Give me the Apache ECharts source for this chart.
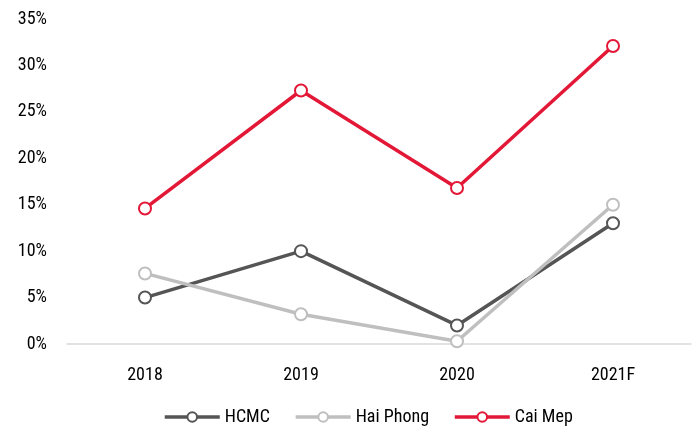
<!DOCTYPE html>
<html><head><meta charset="utf-8">
<script src="https://cdn.jsdelivr.net/npm/echarts@6/dist/echarts.min.js"></script>
<style>html,body{margin:0;padding:0;background:#fff}#c{width:699px;height:428px}</style>
</head><body><div id="c"></div>
<script>
const categories = ['2018','2019','2020','2021F'];
const hcmc = [5.0, 10.0, 2.0, 13.0];
const haiPhong = [7.6, 3.2, 0.3, 15.0];
const caiMep = [14.6, 27.3, 16.8, 32.1];
const seriesNames = ['HCMC','Hai Phong','Cai Mep'];
const colors = ['#555555','#bfbfbf','#e31837'];
const FONT = '"Liberation Sans Narrow", "Roboto Condensed", "Arial Narrow", sans-serif';
const chart = echarts.init(document.getElementById('c'));
function mk(name, data, color){
  return {name, type:'line', data, symbol:'circle', symbolSize:12,
    lineStyle:{width:3.5,color}, itemStyle:{color:'#fff',borderColor:color,borderWidth:2},
    emphasis:{disabled:true}};
}
chart.setOption({
  animation:false,
  textStyle:{fontFamily:FONT},
  grid:{left:67,right:8,top:19,bottom:84},
  legend:{top:406,left:158,itemWidth:55,itemHeight:12,itemGap:24,padding:[2,5],
    textStyle:{fontFamily:FONT,fontSize:18,color:'#000'},
    data:seriesNames.map((n,i)=>({name:n,itemStyle:{color:'#fff',borderColor:colors[i],borderWidth:2},lineStyle:{color:colors[i],width:3.5}}))},
  xAxis:{type:'category',data:categories,boundaryGap:true,
    axisLine:{lineStyle:{color:'#d9d9d9',width:1.5}},axisTick:{show:false},
    axisLabel:{fontFamily:FONT,fontSize:18,color:'#000',margin:22}},
  yAxis:{type:'value',min:0,max:35,interval:5,
    axisLine:{show:false},axisTick:{show:false},splitLine:{show:false},
    axisLabel:{formatter:'{value}%',fontFamily:FONT,fontSize:18,color:'#000',margin:20}},
  series:[mk('HCMC',hcmc,colors[0]),mk('Hai Phong',haiPhong,colors[1]),mk('Cai Mep',caiMep,colors[2])]
});
</script></body></html>
